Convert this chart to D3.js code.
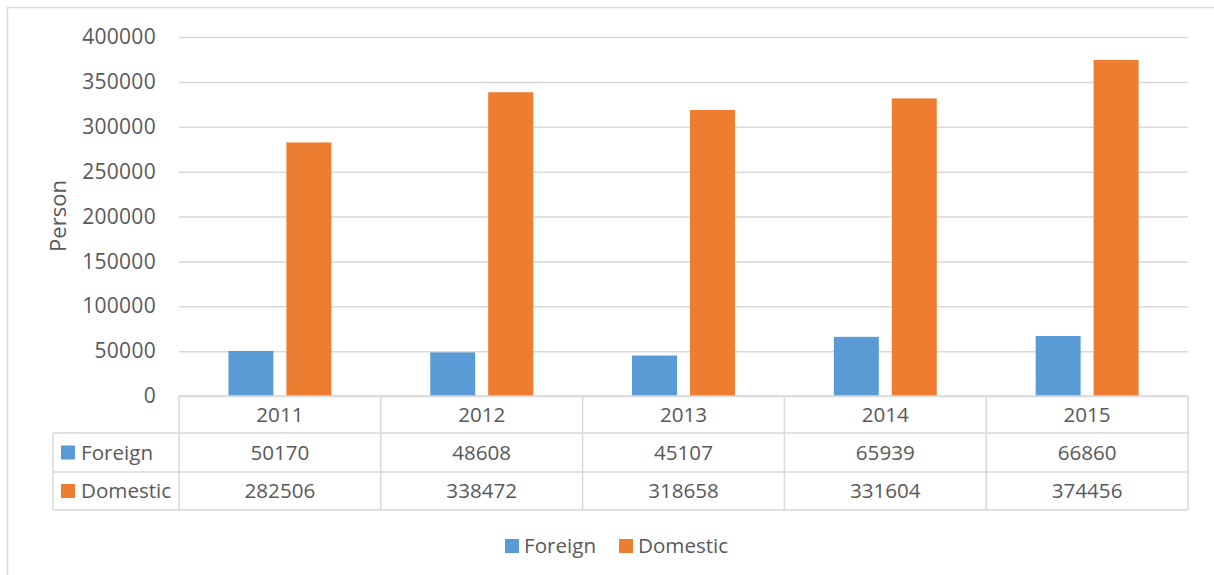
<!DOCTYPE html>
<html>
<head>
<meta charset="utf-8">
<script src="https://cdn.jsdelivr.net/npm/d3@7"></script>
<style>
  body { margin: 0; background: #fff; }
  text { font-family: "Open Sans", sans-serif; fill: #595959; }
</style>
</head>
<body>
<div id="chart"></div>
<script>
var years = ['2011', '2012', '2013', '2014', '2015'];
var seriesNames = ['Foreign', 'Domestic'];
var foreign = [50170, 48608, 45107, 65939, 66860];
var domestic = [282506, 338472, 318658, 331604, 374456];
var yTicks = [0, 50000, 100000, 150000, 200000, 250000, 300000, 350000, 400000];
var colors = ['#5B9BD5', '#ED7D31'];

var values = [foreign, domestic];
var W = 1214, H = 575;
var plot = { left: 179, right: 1188, top: 37, bottom: 396 };
var rowH = [396, 433, 472, 510];
var tableLeft = 53;
var fs = '20.6px';

var svg = d3.select('#chart').append('svg')
  .attr('width', W)
  .attr('height', H);

// chart frame
svg.append('rect')
  .attr('x', 7.5).attr('y', 7.5)
  .attr('width', W + 10).attr('height', H + 10)
  .attr('fill', 'none')
  .attr('stroke', '#d9d9d9')
  .attr('stroke-width', 1.5);

var x0 = d3.scaleBand()
  .domain(years)
  .range([plot.left, plot.right]);

var x1 = d3.scaleBand()
  .domain(seriesNames)
  .range([0, x0.bandwidth()])
  .paddingInner(0.224)
  .paddingOuter(0.853);

var y = d3.scaleLinear()
  .domain([0, 400000])
  .range([plot.bottom, plot.top]);

// gridlines + tick labels
var yAxis = d3.axisLeft(y)
  .tickValues(yTicks)
  .tickSize(-(plot.right - plot.left))
  .tickPadding(23)
  .tickFormat(d3.format('d'));

var gy = svg.append('g')
  .attr('transform', `translate(${plot.left}, 0)`)
  .call(yAxis);
gy.select('.domain').remove();
gy.selectAll('line').attr('stroke', '#d9d9d9').attr('stroke-width', 1.5);
gy.selectAll('text')
  .style('font-size', '21px')
  .style('letter-spacing', '0.3px')
  .attr('fill', '#595959');

svg.append('text')
  .attr('transform', `translate(66, 216) rotate(-90)`)
  .attr('text-anchor', 'middle')
  .style('font-size', '22px')
  .text('Person');

// bars
var data = [];
years.forEach(function (yr, i) {
  seriesNames.forEach(function (s, j) {
    data.push({ year: yr, series: s, value: values[j][i], color: colors[j] });
  });
});

svg.selectAll('.bar')
  .data(data)
  .enter().append('rect')
  .attr('class', 'bar')
  .attr('x', d => x0(d.year) + x1(d.series))
  .attr('y', d => y(d.value))
  .attr('width', x1.bandwidth())
  .attr('height', d => y(0) - y(d.value))
  .attr('fill', d => d.color);

// data table
var tbl = svg.append('g').attr('stroke', '#d9d9d9').attr('stroke-width', 1.5);
tbl.append('line').attr('x1', plot.left).attr('x2', plot.right).attr('y1', rowH[0]).attr('y2', rowH[0]);
[1, 2, 3].forEach(function (r) {
  tbl.append('line').attr('x1', tableLeft).attr('x2', plot.right).attr('y1', rowH[r]).attr('y2', rowH[r]);
});
tbl.append('line').attr('x1', tableLeft).attr('x2', tableLeft).attr('y1', rowH[1]).attr('y2', rowH[3]);
years.forEach(function (yr) {
  tbl.append('line').attr('x1', x0(yr)).attr('x2', x0(yr)).attr('y1', rowH[0]).attr('y2', rowH[3]);
});
tbl.append('line').attr('x1', plot.right).attr('x2', plot.right).attr('y1', rowH[0]).attr('y2', rowH[3]);

svg.selectAll('.cat')
  .data(years)
  .enter().append('text')
  .attr('x', d => x0(d) + x0.bandwidth() / 2)
  .attr('y', (rowH[0] + rowH[1]) / 2)
  .attr('dy', '0.35em')
  .attr('text-anchor', 'middle')
  .style('font-size', fs)
  .text(d => d);

seriesNames.forEach(function (s, j) {
  var cy = (rowH[j + 1] + rowH[j + 2]) / 2;
  svg.append('rect')
    .attr('x', 61).attr('y', cy - 7)
    .attr('width', 14).attr('height', 14)
    .attr('fill', colors[j]);
  svg.append('text')
    .attr('x', 81).attr('y', cy)
    .attr('dy', '0.35em')
    .style('font-size', fs)
    .text(s);
  svg.selectAll('.val' + j)
    .data(values[j])
    .enter().append('text')
    .attr('x', (d, i) => x0(years[i]) + x0.bandwidth() / 2)
    .attr('y', cy)
    .attr('dy', '0.35em')
    .attr('text-anchor', 'middle')
    .style('font-size', fs)
    .text(d => d);
});

// legend
var legX = [505, 619];
var legend = svg.append('g');
seriesNames.forEach(function (s, j) {
  legend.append('rect')
    .attr('x', legX[j]).attr('y', 539)
    .attr('width', 14).attr('height', 14)
    .attr('fill', colors[j]);
  legend.append('text')
    .attr('x', legX[j] + 19).attr('y', 546)
    .attr('dy', '0.35em')
    .style('font-size', fs)
    .text(s);
});
</script>
</body>
</html>
